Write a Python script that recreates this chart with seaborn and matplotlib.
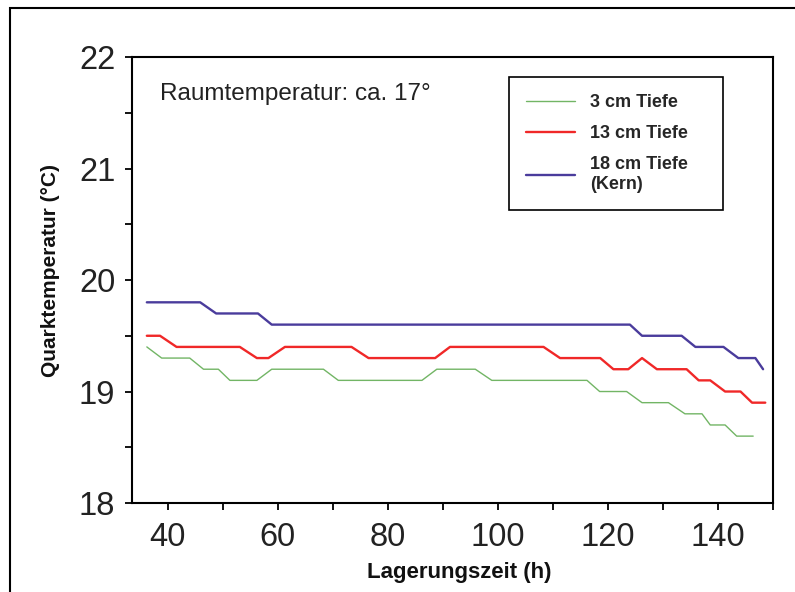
import pandas as pd
import matplotlib
matplotlib.use("Agg")
import matplotlib.pyplot as plt
from matplotlib.patches import Rectangle
from matplotlib.ticker import MultipleLocator
import seaborn as sns

# Style
sns.set_style("ticks")
plt.rcParams['font.family'] = ['Liberation Sans', 'DejaVu Sans']

# Data: hours of storage and temperature per depth
hours_3cm = [36.2, 38.9, 44.0, 46.5, 49.2, 51.3, 56.2, 58.9, 68.3, 71.0, 86.2, 88.9, 95.9,
             98.9, 116.2, 118.5, 123.4, 126.2, 131.0, 134.0, 137.1, 138.6, 141.3, 143.4, 146.4]
temp_3cm = [19.4, 19.3, 19.3, 19.2, 19.2, 19.1, 19.1, 19.2, 19.2, 19.1, 19.1, 19.2, 19.2,
            19.1, 19.1, 19.0, 19.0, 18.9, 18.9, 18.8, 18.8, 18.7, 18.7, 18.6, 18.6]

hours_13cm = [36.2, 38.6, 41.6, 53.1, 56.2, 58.3, 61.3, 73.4, 76.5, 88.6, 91.3, 108.3, 111.3,
              118.6, 121.0, 123.7, 126.2, 128.9, 134.3, 136.5, 138.6, 141.3, 144.1, 146.2, 148.6]
temp_13cm = [19.5, 19.5, 19.4, 19.4, 19.3, 19.3, 19.4, 19.4, 19.3, 19.3, 19.4, 19.4, 19.3,
             19.3, 19.2, 19.2, 19.3, 19.2, 19.2, 19.1, 19.1, 19.0, 19.0, 18.9, 18.9]

hours_18cm = [36.2, 45.9, 48.8, 56.4, 58.9, 124.0, 126.2, 133.4, 135.9, 141.0, 143.7, 146.8, 148.2]
temp_18cm = [19.8, 19.8, 19.7, 19.7, 19.6, 19.6, 19.5, 19.5, 19.4, 19.4, 19.3, 19.3, 19.2]

series_labels = ["3 cm Tiefe", "13 cm Tiefe", "18 cm Tiefe\n(Kern)"]
series_colors = ["#72b565", "#f02828", "#4a3c9c"]
series_widths = [1.0, 1.7, 1.7]

x_ticks = [40, 60, 80, 100, 120, 140]
y_ticks = [18, 19, 20, 21, 22]

# Build long-form table
frames = []
for label, hrs, tmp in zip(series_labels,
                           [hours_3cm, hours_13cm, hours_18cm],
                           [temp_3cm, temp_13cm, temp_18cm]):
    frames.append(pd.DataFrame({"Stunden": hrs, "Temperatur": tmp, "Tiefe": label}))
df = pd.concat(frames, ignore_index=True)

fig = plt.figure(figsize=(7.95, 5.92), dpi=100)
ax = fig.add_axes([0.166, 0.1503, 0.8063, 0.7534])

for label, color, lw in zip(series_labels, series_colors, series_widths):
    sub = df[df["Tiefe"] == label]
    sns.lineplot(data=sub, x="Stunden", y="Temperatur", color=color, linewidth=lw,
                 estimator=None, sort=False, ax=ax, label=label)

ax.set_xlim(33.5, 150)
ax.set_ylim(18, 22)
ax.set_xticks(x_ticks)
ax.set_yticks(y_ticks)
ax.xaxis.set_minor_locator(MultipleLocator(10))
ax.yaxis.set_minor_locator(MultipleLocator(0.5))
ax.tick_params(which='both', direction='out', length=5, width=1.3, color='black')
ax.tick_params(which='major', labelsize=23.5, labelcolor='#222222')
ax.tick_params(axis='x', which='major', pad=9)
ax.tick_params(axis='y', which='major', pad=7)

for spine in ax.spines.values():
    spine.set_color('black')
    spine.set_linewidth(1.5)

ax.set_xlabel("Lagerungszeit (h)", fontsize=16, fontweight='bold', color='#111111')
ax.set_ylabel("Quarktemperatur (°C)", fontsize=15, fontweight='bold', color='#111111')
ax.xaxis.set_label_coords(0.51, -0.132)
ax.yaxis.set_label_coords(-0.113, 0.522)

ax.text(0.044, 0.918, "Raumtemperatur: ca. 17°", transform=ax.transAxes,
        fontsize=17.5, va='center', ha='left', color='#222222')

leg = ax.legend(loc='upper left', bbox_to_anchor=(0.588, 0.655, 0.334, 0.3),
                mode='expand', borderaxespad=0, frameon=True,
                fancybox=False, framealpha=1, edgecolor='black',
                handlelength=2.7, handletextpad=0.85, borderpad=0.95, labelspacing=0.78,
                prop={'weight': 'bold', 'size': 13})
leg.get_frame().set_linewidth(1.2)

# outer frame around the figure
fig.patches.append(Rectangle((10 / 795, -0.1), 1.2, 1.1 - 8 / 592, transform=fig.transFigure,
                             fill=False, edgecolor='black', linewidth=1.5))

fig.savefig("out.png", dpi=100, facecolor='white')
